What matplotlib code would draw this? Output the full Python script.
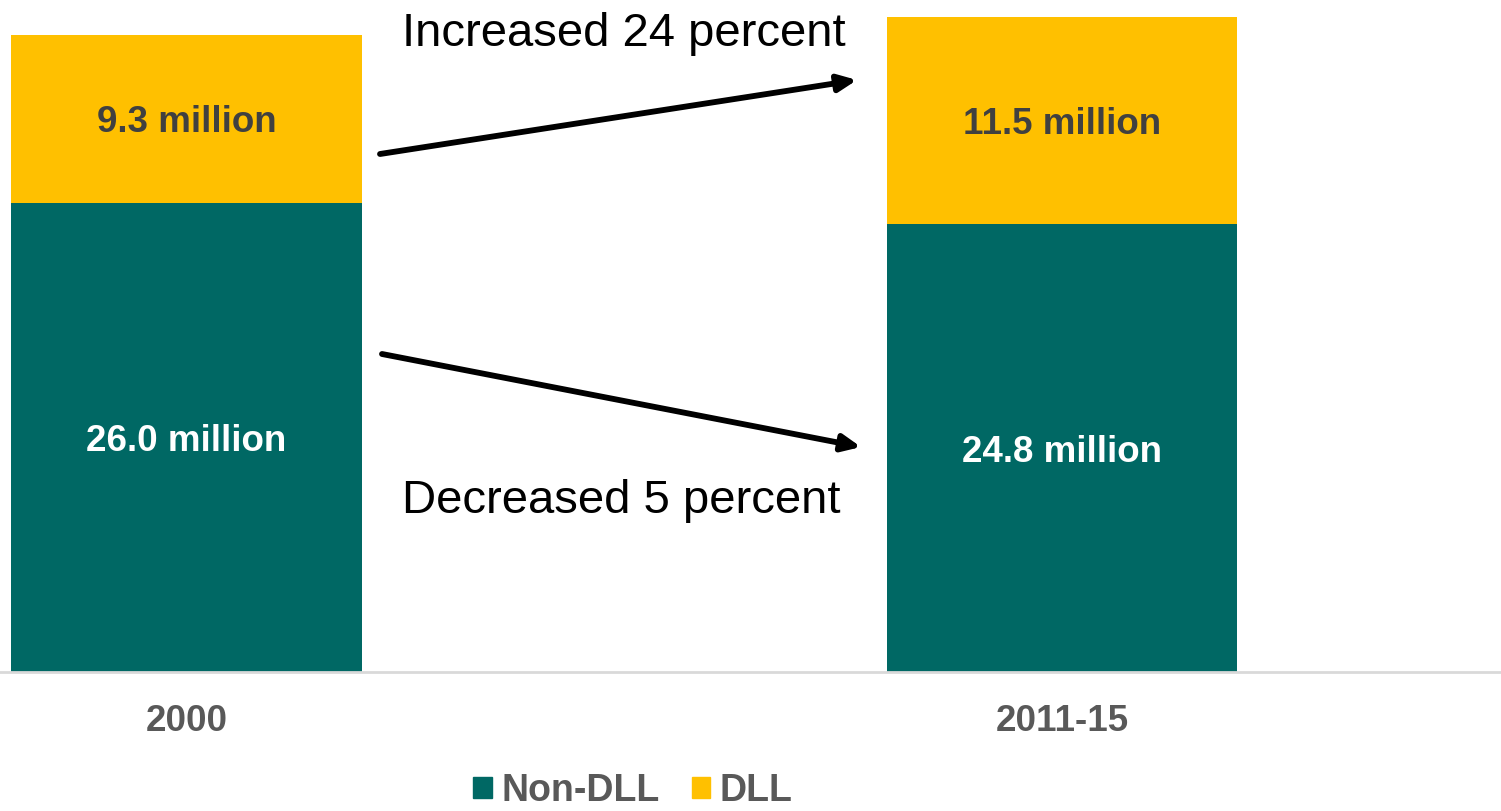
import matplotlib.pyplot as plt
from matplotlib.patches import Patch

plt.rcParams['font.family'] = ['Liberation Sans', 'DejaVu Sans']

periods = ["2000", "2011-15"]
non_dll = [26.0, 24.8]
dll = [9.3, 11.5]
change_labels = ["Increased 24 percent", "Decreased 5 percent"]

teal = "#006864"
gold = "#FFC000"
W, H = 1501, 811

fig = plt.figure(figsize=(W / 100, H / 100), dpi=100)
ax = fig.add_axes([0, (H - 672) / H, 1, 672 / H])

x = list(range(len(periods)))
ax.bar(x, non_dll, width=0.4, color=teal, zorder=2)
ax.bar(x, dll, width=0.4, bottom=non_dll, color=gold, zorder=2)

for xi, n, d in zip(x, non_dll, dll):
    ax.annotate(f"{n:.1f} million", (xi, n / 2), xytext=(0, -4), textcoords="offset pixels",
                ha="center", va="center", color="white", fontsize=26.5, fontweight="bold")
    ax.annotate(f"{d:.1f} million", (xi, n + d / 2), xytext=(0, -4), textcoords="offset pixels",
                ha="center", va="center", color="#404040", fontsize=26.5, fontweight="bold")

ax.set_xlim(-0.213, 1.5014)
ax.set_ylim(0, 37.23)
ax.set_xticks(x)
ax.set_xticklabels(periods, fontsize=26.5, fontweight="bold", color="#595959")
ax.tick_params(axis="x", length=0, pad=23)
ax.set_yticks([])
for s in ["top", "right", "left"]:
    ax.spines[s].set_visible(False)
ax.spines["bottom"].set_color("#d9d9d9")
ax.spines["bottom"].set_linewidth(2)


def px(xp, yp):
    return (xp / W, 1 - yp / H)


arrow_style = dict(arrowstyle="-|>,head_length=1.1,head_width=0.5", color="black",
                   lw=4.2, shrinkA=0, shrinkB=0)
ax.annotate("", xy=px(857, 80), xytext=px(380, 154), xycoords="figure fraction",
            textcoords="figure fraction", arrowprops=arrow_style)
ax.annotate("", xy=px(861, 447), xytext=px(382, 354), xycoords="figure fraction",
            textcoords="figure fraction", arrowprops=arrow_style)

fig.text(*px(624, 34), change_labels[0], ha="center", va="center", fontsize=34, color="black")
fig.text(*px(621, 501), change_labels[1], ha="center", va="center", fontsize=34, color="black")

handles = [Patch(color=teal, label="Non-DLL"), Patch(color=gold, label="DLL")]
leg = fig.legend(handles=handles, loc="center", bbox_to_anchor=px(633, 791), ncol=2,
                 frameon=False, fontsize=27, handlelength=0.5, handleheight=0.5,
                 handletextpad=0.25, columnspacing=0.85, borderpad=0)
for t in leg.get_texts():
    t.set_color("#595959")
    t.set_fontweight("bold")

fig.savefig("out.png", dpi=100)
